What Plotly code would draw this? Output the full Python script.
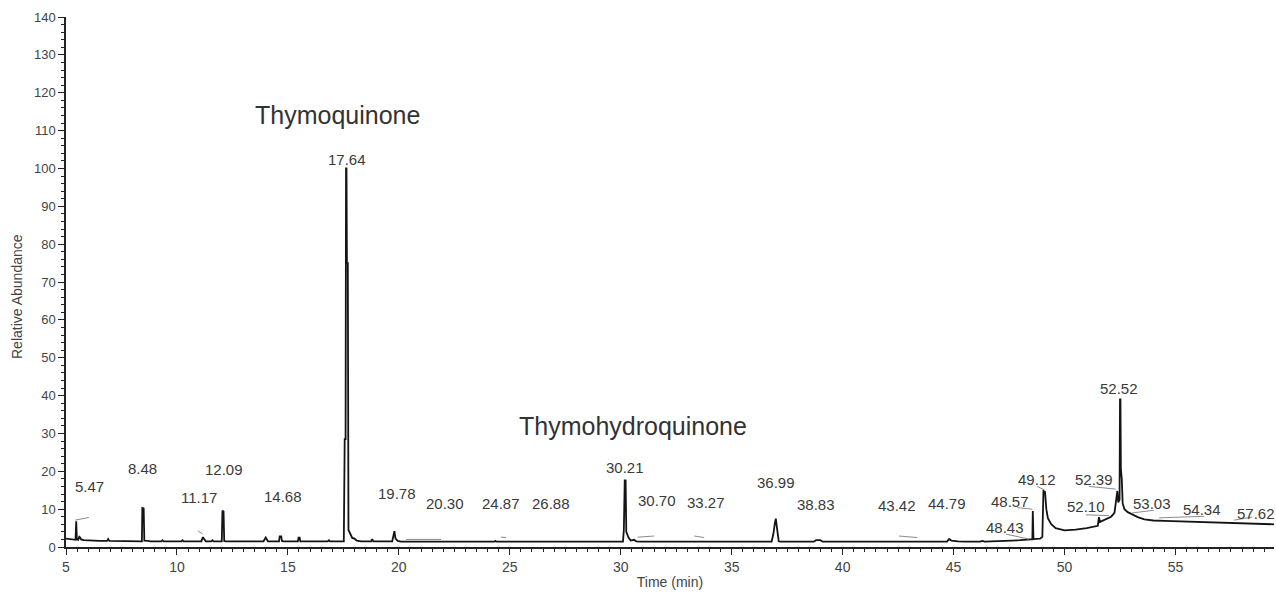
import plotly.graph_objects as go

# ---- chromatogram trace (time in min, relative abundance in %) ----
time_min = [
    5.00, 5.40, 5.43, 5.46, 5.49, 5.55, 5.60, 5.64, 5.68, 5.80, 6.00, 6.30, 6.50, 6.85, 6.90, 6.95,
    7.50, 8.00, 8.42, 8.44, 8.50, 8.53, 8.60, 8.70, 8.80,
    9.30, 9.35, 9.40, 10.20, 10.25, 10.30, 11.10, 11.17, 11.25, 11.30, 11.55, 11.60, 11.65,
    12.02, 12.05, 12.10, 12.13, 12.20,
    13.90, 14.00, 14.10, 14.60, 14.63, 14.70, 14.73, 14.80, 15.45, 15.48, 15.53, 15.56,
    16.80, 16.85, 16.90,
    17.52, 17.56, 17.60, 17.62, 17.64, 17.66, 17.70, 17.73, 17.80, 17.90, 18.00, 18.10, 18.30,
    18.75, 18.80, 18.85, 19.70, 19.75, 19.80, 19.85, 19.95, 20.10,
    24.30, 24.35, 24.40, 30.10,
    30.14, 30.18, 30.22, 30.25, 30.35, 30.45, 30.60, 30.70, 30.90,
    36.80, 36.88, 36.95, 36.99, 37.02, 37.06, 37.12, 37.20,
    38.70, 38.80, 39.00, 39.10, 44.70, 44.80, 44.90, 45.20, 45.50, 46.20, 46.30, 46.40,
    47.00, 47.50, 48.00, 48.50, 48.55, 48.57, 48.60, 48.90, 49.00, 49.05, 49.12, 49.18,
    49.25, 49.40, 49.60, 50.00, 50.50, 51.00, 51.50, 51.55, 51.60, 51.70, 51.90, 52.10,
    52.25, 52.33, 52.38, 52.42, 52.48, 52.50, 52.52, 52.54, 52.58, 52.62, 52.70, 52.85,
    53.00, 53.30, 53.60, 54.00, 54.50, 55.00, 55.50, 56.00, 56.50, 57.00, 57.50, 58.00,
    58.50, 59.00, 59.44,
]
abundance = [
    2.2, 1.9, 1.9, 6.8, 2.0, 1.9, 2.7, 2.5, 2.0, 1.8, 1.7, 1.6, 1.6, 1.6, 2.1, 1.6,
    1.5, 1.5, 1.5, 10.3, 10.2, 1.7, 1.7, 1.6, 1.5,
    1.5, 1.8, 1.5, 1.5, 1.8, 1.5, 1.5, 2.6, 1.7, 1.5, 1.5, 1.8, 1.5,
    1.5, 9.6, 9.4, 1.6, 1.5,
    1.5, 2.5, 1.5, 1.5, 2.8, 2.8, 1.6, 1.5, 1.5, 2.5, 2.5, 1.5,
    1.5, 1.8, 1.5,
    1.5, 28.5, 28.5, 100.0, 100.0, 75.0, 75.0, 4.5, 3.5, 2.4, 2.2, 1.7, 1.5,
    1.5, 2.1, 1.5, 1.5, 3.0, 4.2, 2.2, 1.6, 1.4,
    1.4, 1.6, 1.4, 1.4,
    4.5, 17.6, 17.6, 4.0, 2.5, 1.7, 1.9, 1.5, 1.4,
    1.4, 3.5, 6.5, 7.5, 6.0, 4.0, 1.5, 1.4,
    1.4, 1.8, 1.8, 1.4, 1.4, 2.1, 1.7, 1.5, 1.4, 1.4, 1.6, 1.4,
    1.5, 1.6, 1.8, 2.0, 2.0, 9.5, 2.1, 2.2, 2.7, 14.8, 14.6, 10.0,
    7.6, 6.0, 5.0, 4.4, 4.6, 5.0, 5.6, 7.9, 6.6, 6.9, 7.4, 8.0,
    9.0, 13.0, 14.8, 11.8, 12.5, 39.0, 39.0, 20.5, 18.0, 11.5, 10.0, 9.2,
    8.7, 7.9, 7.3, 7.0, 6.9, 6.8, 6.7, 6.6, 6.6, 6.4, 6.4, 6.2,
    6.2, 6.1, 6.0,
]

# ---- peak labels ----
peak_labels = ["5.47", "8.48", "11.17", "12.09", "14.68", "17.64", "19.78", "20.30",
               "24.87", "26.88", "30.21", "30.70", "33.27", "36.99", "38.83", "43.42",
               "44.79", "48.43", "48.57", "49.12", "52.39", "52.10", "52.52", "53.03",
               "54.34", "57.62"]
label_x = [6.06, 8.45, 11.00, 12.10, 14.80, 17.68, 19.90, 22.10,
           24.60, 26.87, 30.20, 31.65, 33.85, 37.00, 38.80, 42.45,
           44.70, 47.30, 47.55, 48.75, 51.35, 50.95, 52.45, 53.95,
           56.20, 58.62]
label_y = [16.0, 20.7, 13.1, 20.5, 13.4, 102.3, 14.2, 11.5,
           11.5, 11.5, 21.0, 12.3, 11.8, 17.0, 11.3, 11.0,
           11.5, 5.2, 12.0, 17.8, 17.8, 10.8, 42.0, 11.5,
           10.0, 8.9]

# leader lines (x0, y0, x1, y1)
leaders = [
    (5.41, 7.1, 6.03, 7.8), (10.94, 4.3, 11.16, 3.4), (20.32, 2.0, 21.90, 2.0),
    (24.60, 2.6, 24.83, 2.5), (30.76, 2.6, 31.51, 2.9), (33.31, 2.9, 33.76, 2.5),
    (42.54, 2.9, 43.37, 2.5), (47.35, 3.4, 48.40, 2.1), (47.87, 10.4, 48.55, 10.0),
    (48.77, 16.0, 49.08, 15.1), (51.10, 16.0, 52.30, 15.3), (50.96, 8.5, 52.00, 8.3),
    (53.05, 9.0, 54.03, 9.7), (54.26, 7.7, 56.29, 8.1), (57.64, 7.1, 58.46, 7.9),
]

compounds = ["Thymoquinone", "Thymohydroquinone"]
compound_x = [17.25, 30.56]
compound_y = [114.0, 32.0]

fig = go.Figure()
fig.add_trace(go.Scatter(x=time_min, y=abundance, mode="lines",
                         line=dict(color="#141414", width=1.8), hoverinfo="x+y",
                         showlegend=False))

for lx0, ly0, lx1, ly1 in leaders:
    fig.add_shape(type="line", x0=lx0, y0=ly0, x1=lx1, y1=ly1, xref="x", yref="y",
                  line=dict(color="#8c8c8c", width=1))

for txt, x, y in zip(peak_labels, label_x, label_y):
    fig.add_annotation(x=x, y=y, text=txt, showarrow=False, xanchor="center",
                       yanchor="middle", font=dict(family="Arial", size=15, color="#3a3a3a"))

for txt, x, y in zip(compounds, compound_x, compound_y):
    fig.add_annotation(x=x, y=y, text=txt, showarrow=False, xanchor="center",
                       yanchor="middle", font=dict(family="Arial", size=25, color="#333333"))

# y-axis title, placed as in the reference (slightly below the axis centre)
fig.add_annotation(xref="paper", yref="paper", x=-49 / 1208, y=(547 - 297) / 530,
                   text="Relative Abundance", textangle=-90, showarrow=False,
                   xanchor="center", yanchor="middle",
                   font=dict(family="Arial", size=14, color="#444444"))

fig.update_layout(
    width=1276, height=595,
    margin=dict(l=66, r=2, t=17, b=48),
    paper_bgcolor="white", plot_bgcolor="white",
    font=dict(family="Arial", color="#444444"),
)
fig.update_xaxes(
    range=[5, 59.44], tickmode="linear", tick0=5, dtick=5,
    showgrid=False, zeroline=False, showline=True, linecolor="#222222", linewidth=1.5,
    ticks="outside", ticklen=6, tickcolor="#222222", tickwidth=1.2,
    tickfont=dict(size=14, color="#444444"),
    minor=dict(dtick=0.5, tick0=5, ticks="outside", ticklen=3, tickcolor="#222222", showgrid=False),
    title=dict(text="Time (min)", font=dict(size=14, color="#444444"), standoff=4),
)
fig.update_yaxes(
    range=[0, 140], tickmode="linear", tick0=0, dtick=10,
    showgrid=False, zeroline=False, showline=True, linecolor="#222222", linewidth=1.5,
    ticks="outside", ticklen=6, tickcolor="#222222", tickwidth=1.2,
    tickfont=dict(size=13, color="#444444"),
    minor=dict(dtick=2, ticks="outside", ticklen=3, tickcolor="#222222", showgrid=False),
)

fig.write_html("out.html")
